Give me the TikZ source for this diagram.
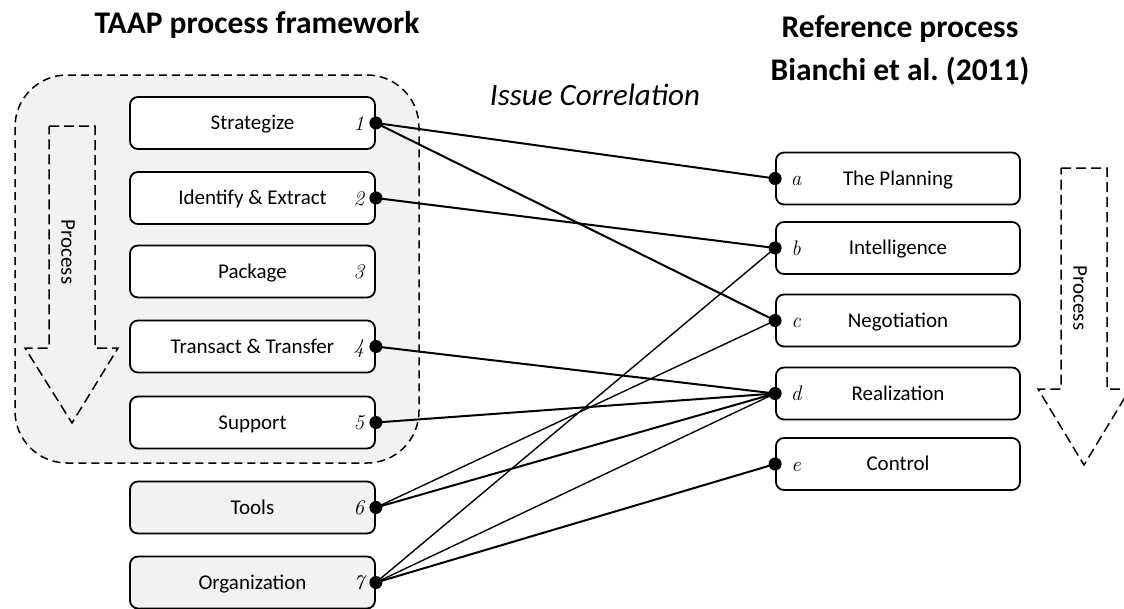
\documentclass[tikz,border=0pt]{standalone}
\usepackage{fontspec}
\setsansfont{Carlito}
\definecolor{bgGray}{HTML}{F2F2F2}
\begin{document}
\begin{tikzpicture}[x=1pt,y=-1pt,
  box/.style={draw, line width=1.8pt, rounded corners=8pt, minimum width=245pt, minimum height=52pt,
    font=\sffamily\fontsize{21}{25}\selectfont, inner sep=0pt, text height=13.5pt, text depth=0pt},
  wbox/.style={box, fill=white},
  gbox/.style={box, fill=bgGray},
  num/.style={font=\rmfamily\itshape\fontsize{21}{25}\selectfont, inner sep=0pt, text height=14pt, text depth=0pt},
  thickln/.style={line width=2pt},
  thinln/.style={line width=1.4pt},
  dot/.style={circle, fill=black, inner sep=0pt, minimum size=13pt},
  ttl/.style={font=\sffamily\bfseries\fontsize{31.5}{38}\selectfont, inner sep=0pt, anchor=base},
  procarrow/.style={draw, line width=1.5pt, dash pattern=on 10pt off 5pt, line join=miter},
  proctext/.style={font=\sffamily\fontsize{21}{25}\selectfont, rotate=-90, inner sep=0pt}
]
\useasboundingbox (0,0) rectangle (1124,608);
% container
\draw[line width=1.5pt, dash pattern=on 8pt off 5pt, fill=bgGray, rounded corners=52pt] (15,75) rectangle (419,463);
% titles
\node[ttl] (t1) at (257,33) {TAAP process framework};
\node[ttl] (t2) at (900,37) {Reference process};
\node[ttl] (t3) at (900,80) {Bianchi et al.\ (2011)};
\node[font=\sffamily\itshape\fontsize{31}{37}\selectfont, inner sep=0pt, anchor=base] (ic) at (595,105) {Issue Correlation};
% process arrows
\draw[procarrow] (49,126) -- (95,126) -- (95,348) -- (118,348) -- (72,423) -- (25,348) -- (49,348) -- cycle;
\node[proctext] (p1) at (68,252) {Process};
\draw[procarrow] (1061,168) -- (1107,168) -- (1107,389) -- (1130,389) -- (1084,465) -- (1038,389) -- (1061,389) -- cycle;
\node[proctext] (p2) at (1080,298) {Process};
% left boxes
\node[wbox] (L1) at (252.5,123) {Strategize};
\node[wbox] (L2) at (252.5,198) {Identify \& Extract};
\node[wbox] (L3) at (252.5,271.5) {Package};
\node[wbox] (L4) at (252.5,346.5) {Transact \& Transfer};
\node[wbox] (L5) at (252.5,422.5) {Support};
\node[gbox] (L6) at (252.5,507.5) {Tools};
\node[gbox] (L7) at (252.5,582.5) {Organization};
% right boxes
\node[wbox, minimum width=244pt] (Ra) at (898,178.5) {The Planning};
\node[wbox, minimum width=244pt] (Rb) at (898,248) {Intelligence};
\node[wbox, minimum width=244pt] (Rc) at (898,320.5) {Negotiation};
\node[wbox, minimum width=244pt] (Rd) at (898,393.5) {Realization};
\node[wbox, minimum width=244pt] (Re) at (898,464) {Control};
% numbers
\foreach \i in {1,...,7} {\node[num] (n\i) at ([xshift=-17pt]L\i.east) {\i};}
\foreach \l in {a,b,c,d,e} {\node[num] (m\l) at ([xshift=21pt]R\l.west) {\l};}
% connectors
\draw[thickln] (L1.east) -- (Ra.west);
\draw[thickln] (L1.east) -- (Rc.west);
\draw[thickln] (L2.east) -- (Rb.west);
\draw[thickln] (L4.east) -- (Rd.west);
\draw[thickln] (L5.east) -- (Rd.west);
\draw[thinln] (L6.east) -- (Rc.west);
\draw[thickln] (L6.east) -- (Rd.west);
\draw[thinln] (L7.east) -- (Rb.west);
\draw[thinln] (L7.east) -- (Rd.west);
\draw[thickln] (L7.east) -- (Re.west);
% dots
\foreach \i in {1,2,4,5,6,7} {\node[dot] (dl\i) at (L\i.east) {};}
\foreach \l in {a,b,c,d,e} {\node[dot] (dr\l) at (R\l.west) {};}
\end{tikzpicture}
\end{document}
